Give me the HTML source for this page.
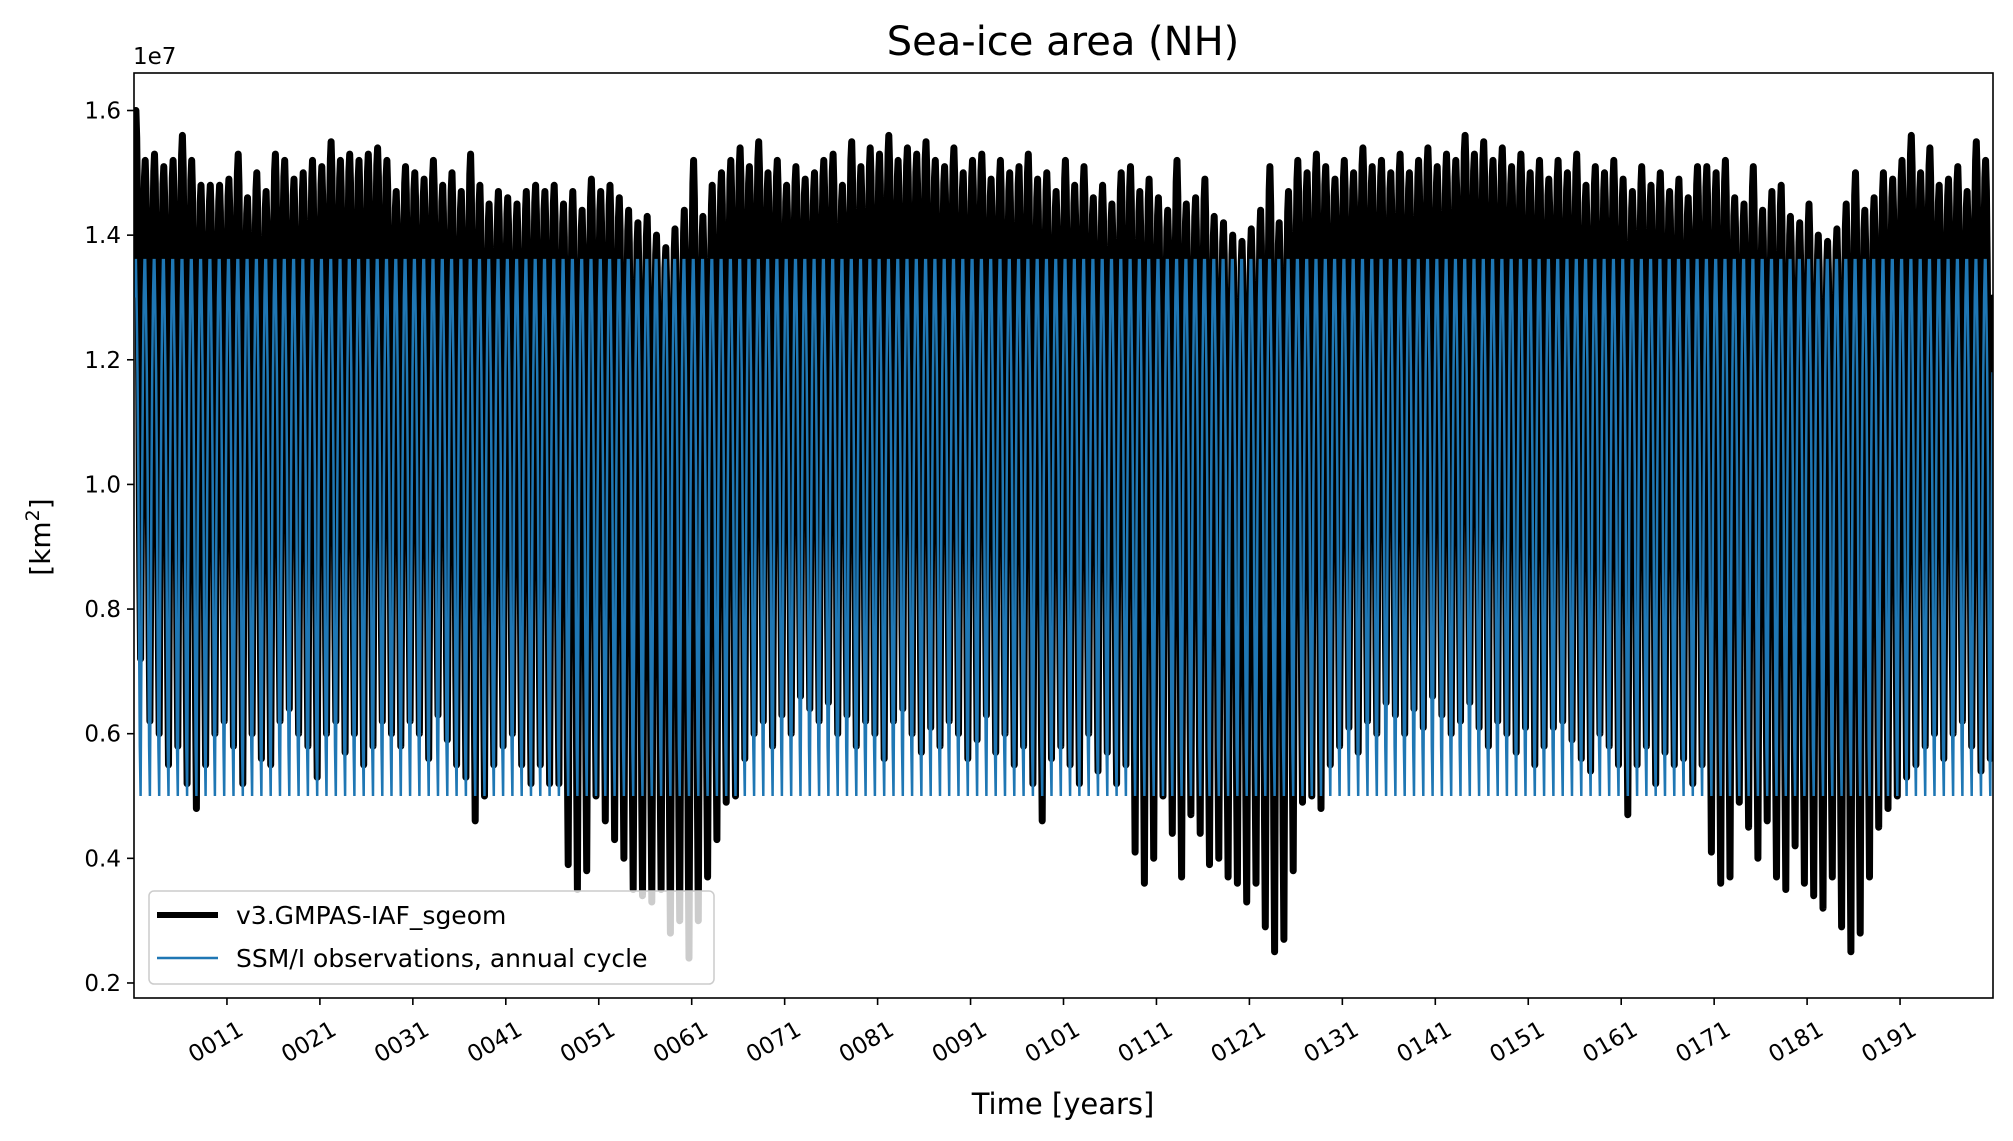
<!DOCTYPE html>
<html><head><meta charset="utf-8"><style>
body{margin:0;background:#fff;}
svg{display:block;font-family:"DejaVu Sans","Liberation Sans",sans-serif;}
</style></head><body>
<svg id="chart" width="2013" height="1141" viewBox="0 0 2013 1141">
<rect width="2013" height="1141" fill="#fff"/>
<defs><clipPath id="clip"><rect x="134" y="73" width="1859" height="925"/></clipPath></defs>
<text x="1063" y="55" text-anchor="middle" font-size="40">Sea-ice area (NH)</text>
<text x="133" y="64" font-size="23">1e7</text>
<text transform="translate(50,537) rotate(-90)" text-anchor="middle" font-size="28">[km<tspan dy="-11" font-size="19">2</tspan><tspan dy="11">]</tspan></text>
<text x="1063" y="1114" text-anchor="middle" font-size="29">Time [years]</text>
<g id="series" clip-path="url(#clip)"></g>
<g id="axes"></g>
<g id="legend">
<rect x="149" y="891" width="565" height="93" rx="5" fill="#fff" fill-opacity="0.8" stroke="#ccc" stroke-width="1.5"/>
<line x1="157" y1="915" x2="218" y2="915" stroke="#000" stroke-width="6"/>
<text x="236" y="924" font-size="25">v3.GMPAS-IAF_sgeom</text>
<line x1="157" y1="958" x2="218" y2="958" stroke="#1f77b4" stroke-width="2.5"/>
<text x="236" y="967" font-size="25">SSM/I observations, annual cycle</text>
</g>
</svg>
<script>
const annualMax = [1.60,1.52,1.53,1.51,1.52,1.56,1.52,1.48,1.48,1.48,1.49,1.53,1.46,1.50,1.47,1.53,1.52,1.49,1.50,1.52,1.51,1.55,1.52,1.53,1.52,1.53,1.54,1.52,1.47,1.51,1.50,1.49,1.52,1.48,1.50,1.47,1.53,1.48,1.45,1.47,1.46,1.45,1.47,1.48,1.47,
1.48,1.45,1.47,1.44,1.49,1.47,1.48,1.46,1.44,1.42,1.43,1.40,1.38,1.41,1.44,1.52,1.43,1.48,1.50,
1.52,1.54,1.51,1.55,1.50,1.52,1.48,1.51,1.49,1.50,1.52,1.53,1.48,1.55,1.51,1.54,1.53,1.56,1.52,1.54,1.53,1.55,1.52,1.51,1.54,1.50,1.52,1.53,1.49,1.52,1.50,1.51,1.53,1.49,1.50,1.47,1.52,1.48,1.51,1.46,1.48,1.45,1.50,
1.51,1.47,1.49,1.46,1.44,1.52,1.45,1.46,1.49,1.43,1.42,1.40,1.39,1.41,1.44,1.51,1.42,1.47,1.52,
1.50,1.53,1.51,1.49,1.52,1.50,1.54,1.51,1.52,1.50,1.53,1.50,1.52,1.54,1.51,1.53,1.52,1.56,1.53,1.55,1.52,1.54,1.51,1.53,1.50,1.52,1.49,1.52,1.50,1.53,1.48,1.51,1.50,1.52,1.49,1.47,1.51,1.48,1.50,1.47,1.49,1.46,1.51,
1.51,1.50,1.52,1.46,1.45,1.51,1.44,1.47,1.48,1.43,1.42,1.45,1.40,1.39,1.41,1.45,1.50,1.44,1.46,
1.50,1.49,1.52,1.56,1.50,1.54,1.48,1.49,1.51,1.47,1.55,1.52];
const annualMin = [0.72,0.62,0.60,0.55,0.58,0.52,0.48,0.55,0.60,0.62,0.58,0.52,0.60,0.56,0.55,0.62,0.64,0.60,0.58,0.53,0.60,0.62,0.57,0.60,0.55,0.58,0.62,0.60,0.58,0.62,0.60,0.56,0.63,0.59,0.55,0.53,0.46,0.50,0.55,0.58,0.60,0.55,0.52,0.55,0.52,
0.52,0.39,0.35,0.38,0.50,0.46,0.43,0.40,0.35,0.34,0.33,0.35,0.28,0.30,0.24,0.30,0.37,0.43,0.49,
0.50,0.56,0.60,0.62,0.58,0.63,0.60,0.66,0.64,0.62,0.65,0.60,0.63,0.58,0.62,0.60,0.56,0.62,0.64,0.60,0.57,0.61,0.58,0.62,0.60,0.56,0.59,0.63,0.57,0.60,0.55,0.58,0.52,0.46,0.56,0.58,0.55,0.52,0.60,0.54,0.57,0.52,0.55,
0.41,0.36,0.40,0.50,0.44,0.37,0.47,0.44,0.39,0.40,0.37,0.36,0.33,0.36,0.29,0.25,0.27,0.38,0.49,
0.50,0.48,0.55,0.58,0.61,0.57,0.62,0.60,0.65,0.63,0.60,0.64,0.61,0.66,0.63,0.60,0.62,0.65,0.61,0.58,0.62,0.60,0.57,0.61,0.55,0.58,0.61,0.62,0.59,0.56,0.54,0.60,0.58,0.55,0.47,0.55,0.58,0.52,0.57,0.55,0.56,0.52,0.55,
0.41,0.36,0.37,0.49,0.45,0.40,0.46,0.37,0.35,0.42,0.36,0.34,0.32,0.37,0.29,0.25,0.28,0.37,0.45,
0.48,0.50,0.53,0.55,0.58,0.60,0.56,0.60,0.62,0.58,0.54,0.56];
const seasonalShape = [0.88,0.97,1.0,0.95,0.83,0.66,0.40,0.15,0.0,0.25,0.55,0.77];
const obsClimatology = [1.30,1.36,1.36,1.28,1.18,1.02,0.78,0.58,0.50,0.72,0.98,1.18];
const yTicks = [0.2,0.4,0.6,0.8,1.0,1.2,1.4,1.6];
const xTickYears = [11,21,31,41,51,61,71,81,91,101,111,121,131,141,151,161,171,181,191];

const X0=134,X1=1993,Y0=73,Y1=998, nYears=annualMax.length;
const xs = t => X0 + (t)/nYears*(X1-X0);
const ys = v => 110.5 + (1.6-v)*623.2;
const NS='http://www.w3.org/2000/svg';
const series=document.getElementById('series'), axes=document.getElementById('axes');

let obsPts=[], modPts=[];
for(let y=0;y<nYears;y++){
  for(let m=0;m<12;m++){
    const t=y+(m+0.5)/12;
    obsPts.push(xs(t).toFixed(1)+','+ys(obsClimatology[m]).toFixed(1));
    const v=annualMin[y]+(annualMax[y]-annualMin[y])*seasonalShape[m];
    modPts.push(xs(t).toFixed(1)+','+ys(v).toFixed(1));
  }
}
const pm=document.createElementNS(NS,'polyline');
pm.setAttribute('points',modPts.join(' '));
pm.setAttribute('fill','none');pm.setAttribute('stroke','#000');pm.setAttribute('stroke-width','7');pm.setAttribute('stroke-linejoin','round');pm.setAttribute('stroke-linecap','round');


series.appendChild(pm);
const po=document.createElementNS(NS,'polyline');
po.setAttribute('points',obsPts.join(' '));
po.setAttribute('fill','none');po.setAttribute('stroke','#1f77b4');po.setAttribute('stroke-width','2.5');


series.appendChild(po);

const frame=document.createElementNS(NS,'rect');
frame.setAttribute('x',X0);frame.setAttribute('y',Y0);frame.setAttribute('width',X1-X0);frame.setAttribute('height',Y1-Y0);
frame.setAttribute('fill','none');frame.setAttribute('stroke','#000');frame.setAttribute('stroke-width','1.6');


axes.appendChild(frame);

yTicks.forEach(v=>{
  const y=ys(v);
  const l=document.createElementNS(NS,'line');
  l.setAttribute('x1',X0-7);l.setAttribute('x2',X0);l.setAttribute('y1',y);l.setAttribute('y2',y);l.setAttribute('stroke','#000');l.setAttribute('stroke-width','1.6');
  
  
  axes.appendChild(l);
  const t=document.createElementNS(NS,'text');
  t.setAttribute('x',X0-13);t.setAttribute('y',y+8);t.setAttribute('text-anchor','end');t.setAttribute('font-size','23');
  t.textContent=v.toFixed(1);
  
  
  axes.appendChild(t);
});
xTickYears.forEach(yr=>{
  const x=xs(yr-1);
  const l=document.createElementNS(NS,'line');
  l.setAttribute('x1',x);l.setAttribute('x2',x);l.setAttribute('y1',Y1);l.setAttribute('y2',Y1+7);l.setAttribute('stroke','#000');l.setAttribute('stroke-width','1.6');
  
  
  axes.appendChild(l);
  const t=document.createElementNS(NS,'text');
  t.setAttribute('transform','translate('+(x+10)+','+(Y1+22)+') rotate(-30)');
  t.setAttribute('text-anchor','end');t.setAttribute('dominant-baseline','hanging');t.setAttribute('font-size','23');
  t.textContent=String(yr).padStart(4,'0');
  
  
  axes.appendChild(t);
});
</script>
</body></html>
